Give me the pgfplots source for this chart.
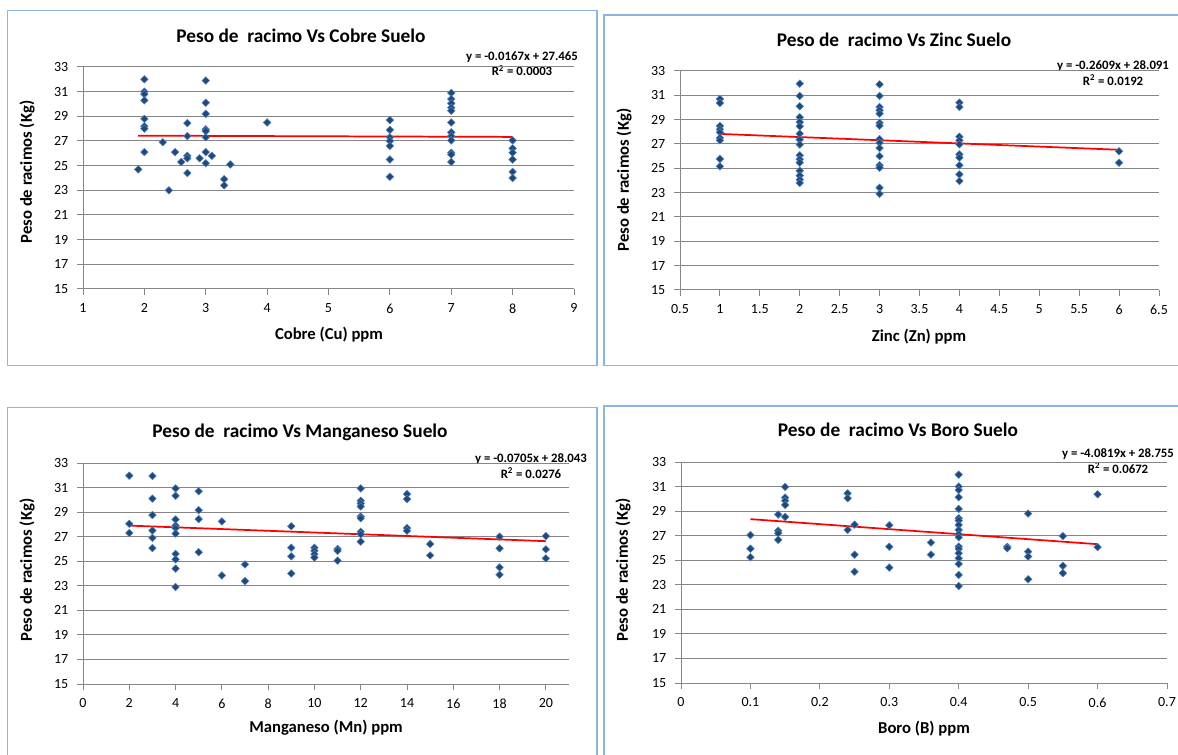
\documentclass[border=0pt]{standalone}
\usepackage{pgfplots}
\pgfplotsset{compat=1.18}
\usepackage{fontspec}
\setmainfont{Carlito}
\definecolor{mk}{RGB}{31,73,125}
\definecolor{mke}{RGB}{79,129,189}
\definecolor{gridc}{RGB}{134,134,134}
\definecolor{boxc}{RGB}{141,180,226}
\pgfplotsset{
 excel/.style={
  scale only axis,
  axis x line*=bottom, axis y line*=left,
  axis line style={gridc, line width=0.75pt},
  ymin=15, ymax=33, ytick={15,17,...,33},
  ymajorgrids, grid style={gridc, line width=0.75pt},
  tick align=outside, major tick length=4.5pt, tick style={gridc, line width=0.75pt},
  ticklabel style={font=\fontsize{10.5}{12}\selectfont, text=black},
  /pgf/number format/assume math mode=true,
  xticklabel style={yshift=-3pt},
  yticklabel style={xshift=-3pt},
  clip=false,
 },
 pts/.style={only marks, mark=square*, mark size=2pt, mark options={rotate=45, fill=mk, draw=mke, line width=0.4pt}},
 trend/.style={red, line width=1.3pt, no marks},
}
\newcommand{\ttl}{\fontsize{14.5}{16}\selectfont\bfseries}
\newcommand{\lbl}{\fontsize{12.5}{14}\selectfont\bfseries}
\newcommand{\eqf}{\fontsize{9.6}{11.5}\selectfont\bfseries}
\begin{document}
\begin{tikzpicture}
\useasboundingbox (0pt,-566.25pt) rectangle (883.5pt,0pt);
\fill[white] (0pt,-566.25pt) rectangle (883.5pt,0pt);
\begin{scope}[x=0.75pt,y=-0.75pt]
\draw[boxc, line width=1.1pt] (7.5,10.5) rectangle (597,365.5);
\draw[boxc, line width=1.1pt] (604,15) rectangle (1190,365.5);
\draw[boxc, line width=1.1pt] (7.5,407.5) rectangle (597,765);
\draw[boxc, line width=1.1pt] (604,406) rectangle (1190,765);
\node[font=\ttl] at (301,36) {Peso de~ racimo Vs Cobre Suelo};
\node[font=\ttl] at (894,40) {Peso de~ racimo Vs Zinc Suelo};
\node[font=\ttl] at (300,432) {Peso de~ racimo Vs Manganeso Suelo};
\node[font=\ttl] at (898,430) {Peso de~ racimo Vs Boro Suelo};
\node[font=\lbl] at (329,335) {Cobre (Cu) ppm};
\node[font=\lbl] at (919,337) {Zinc (Zn) ppm};
\node[font=\lbl] at (326,728) {Manganeso (Mn) ppm};
\node[font=\lbl] at (924,729) {Boro (B) ppm};
\node[font=\lbl, rotate=90] at (27,172) {Peso de racimos (Kg)};
\node[font=\lbl, rotate=90] at (624,180) {Peso de racimos (Kg)};
\node[font=\lbl, rotate=90] at (27,570) {Peso de racimos (Kg)};
\node[font=\lbl, rotate=90] at (623,570) {Peso de racimos (Kg)};
\node[font=\eqf, align=center, inner sep=0pt] at (522,64) {y = -0.0167x + 27.465\\R\textsuperscript{2} = 0.0003};
\node[font=\eqf, align=center, inner sep=0pt] at (1113,73) {y = -0.2609x + 28.091\\R\textsuperscript{2} = 0.0192};
\node[font=\eqf, align=center, inner sep=0pt] at (531,466) {y = -0.0705x + 28.043\\R\textsuperscript{2} = 0.0276};
\node[font=\eqf, align=center, inner sep=0pt] at (1118,461) {y = -4.0819x + 28.755\\R\textsuperscript{2} = 0.0672};
\end{scope}
% Cobre
\begin{axis}[excel, at={(62.25pt,-216.75pt)}, anchor=south west, width=368.25pt, height=166.5pt,
 xmin=1, xmax=9, xtick={1,...,9}]
\addplot[pts] coordinates {
(1.9,24.7) (2,32.0) (2,31.0) (2,30.8) (2,30.3) (2,28.8) (2,28.2) (2,28.0) (2,26.1)
(2.3,26.9) (2.4,23.0) (2.5,26.1) (2.6,25.3)
(2.7,28.45) (2.7,27.4) (2.7,25.8) (2.7,25.6) (2.7,24.4) (2.9,25.6)
(3,31.9) (3,30.1) (3,29.2) (3,27.95) (3,27.8) (3,27.3) (3,26.1) (3,25.2)
(3.1,25.8) (3.3,23.9) (3.3,23.4) (3.4,25.1) (4,28.5)
(6,28.7) (6,27.9) (6,27.3) (6,27.0) (6,26.6) (6,25.5) (6,24.1)
(7,30.9) (7,30.4) (7,30.05) (7,29.7) (7,29.45) (7,28.5) (7,27.7) (7,27.4) (7,27.05) (7,26.05) (7,25.9) (7,25.3)
(8,27.05) (8,26.4) (8,26.05) (8,25.5) (8,24.5) (8,24.0)
};
\addplot[trend] coordinates {(1.9,27.433) (8,27.331)};
\end{axis}
% Zinc
\begin{axis}[excel, at={(510pt,-217.5pt)}, anchor=south west, width=359.25pt, height=164.25pt,
 xmin=0.5, xmax=6.5, xtick={0.5,1,...,6.5}]
\addplot[pts] coordinates {
(1,30.7) (1,30.37) (1,28.48) (1,28.2) (1,27.96) (1,27.5) (1,27.3) (1,25.77) (1,25.16)
(2,31.96) (2,30.95) (2,30.1) (2,29.2) (2,28.8) (2,28.45) (2,27.85) (2,27.36) (2,26.95) (2,26.07) (2,25.74) (2,25.47) (2,24.8) (2,24.4) (2,24.07) (2,23.8)
(3,31.9) (3,30.95) (3,30.04) (3,29.77) (3,29.5) (3,28.73) (3,28.5) (3,27.4) (3,27.1) (3,26.67) (3,26.0) (3,25.25) (3,25.05) (3,23.4) (3,22.9)
(4,30.4) (4,30.04) (4,27.6) (4,27.3) (4,26.97) (4,26.15) (4,25.88) (4,25.25) (4,24.5) (4,23.96)
(6,26.4) (6,25.46)
};
\addplot[trend] coordinates {(1,27.830) (6,26.526)};
\end{axis}
% Manganeso
\begin{axis}[excel, at={(62.25pt,-513pt)}, anchor=south west, width=364.5pt, height=165.75pt,
 xmin=0, xmax=21, xtick={0,2,...,20}]
\addplot[pts] coordinates {
(2,31.97) (2,28.05) (2,27.3)
(3,31.94) (3,30.1) (3,28.76) (3,27.5) (3,26.9) (3,26.07)
(4,30.93) (4,30.33) (4,28.4) (4,27.9) (4,27.7) (4,27.25) (4,25.6) (4,25.15) (4,24.4) (4,22.9)
(5,30.7) (5,29.16) (5,28.43) (5,25.74)
(6,28.24) (6,23.84)
(7,24.74) (7,23.38)
(9,27.85) (9,26.1) (9,25.4) (9,24.0)
(10,26.1) (10,25.85) (10,25.58) (10,25.3)
(11,26.0) (11,25.85) (11,25.05)
(12,30.93) (12,29.93) (12,29.7) (12,29.46) (12,28.64) (12,28.5) (12,27.4) (12,27.2) (12,26.6)
(14,30.47) (14,30.06) (14,27.7) (14,27.48)
(15,26.4) (15,25.47)
(18,27.0) (18,26.05) (18,24.5) (18,23.9)
(20,27.05) (20,25.97) (20,25.23)
};
\addplot[trend] coordinates {(2,27.902) (20,26.633)};
\end{axis}
% Boro
\begin{axis}[excel, at={(510.75pt,-512.25pt)}, anchor=south west, width=364.5pt, height=165.75pt,
 xmin=0, xmax=0.7, xtick={0,0.1,...,0.7}]
\addplot[pts] coordinates {
(0.1,27.05) (0.1,25.94) (0.1,25.24)
(0.14,28.72) (0.14,27.4) (0.14,27.2) (0.14,26.66)
(0.15,30.97) (0.15,30.1) (0.15,29.85) (0.15,29.5) (0.15,28.53)
(0.24,30.45) (0.24,30.05) (0.24,27.47)
(0.25,27.9) (0.25,25.45) (0.25,24.06)
(0.3,27.85) (0.3,26.1) (0.3,24.4)
(0.36,26.44) (0.36,25.46)
(0.4,31.97) (0.4,31.0) (0.4,30.72) (0.4,30.13) (0.4,29.18) (0.4,28.42) (0.4,28.23) (0.4,27.87) (0.4,27.47) (0.4,27.12) (0.4,26.87) (0.4,26.11) (0.4,25.92) (0.4,25.57) (0.4,25.16) (0.4,24.7) (0.4,23.8) (0.4,22.9)
(0.47,26.1) (0.47,25.98)
(0.5,28.8) (0.5,25.7) (0.5,25.3) (0.5,23.45)
(0.55,26.97) (0.55,24.54) (0.55,23.95)
(0.6,30.37) (0.6,26.07)
};
\addplot[trend] coordinates {(0.1,28.347) (0.6,26.306)};
\end{axis}
\end{tikzpicture}
\end{document}
